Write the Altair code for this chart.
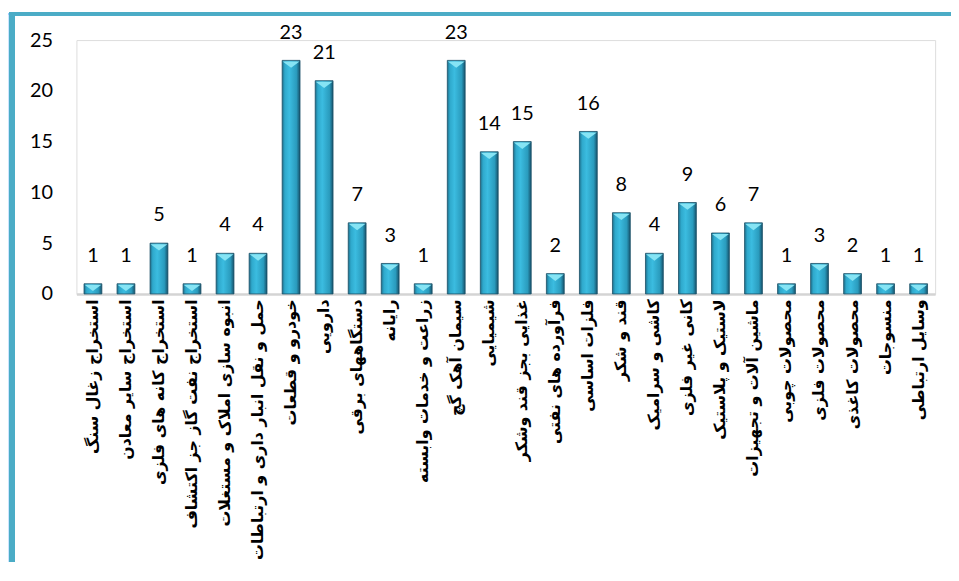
import altair as alt
import pandas as pd

categories = [
    "استخراج زغال سنگ",
    "استخراج سایر معادن",
    "استخراج کانه های فلزی",
    "استخراج نفت گاز جز اکتشاف",
    "انبوه سازی املاک و مستغلات",
    "حمل و نقل انبار داری و ارتباطات",
    "خودرو و قطعات",
    "دارویی",
    "دستگاههای برقی",
    "رایانه",
    "زراعت و خدمات وابسته",
    "سیمان آهک گچ",
    "شیمیایی",
    "غذایی بجز قند وشکر",
    "فرآورده های نفتی",
    "فلزات اساسی",
    "قند و شکر",
    "کاشی و سرامیک",
    "کانی غیر فلزی",
    "لاستیک و پلاستیک",
    "ماشین آلات و تجهیزات",
    "محصولات چوبی",
    "محصولات فلزی",
    "محصولات کاغذی",
    "منسوجات",
    "وسایل ارتباطی",
]
values = [1, 1, 5, 1, 4, 4, 23, 21, 7, 3, 1, 23, 14, 15, 2, 16, 8, 4, 9, 6, 7, 1, 3, 2, 1, 1]
y_ticks = [0, 5, 10, 15, 20, 25]

df = pd.DataFrame({"cat": categories, "val": values})

W, H = 866, 256

x_enc = alt.X(
    "cat:N",
    sort=None,
    scale=alt.Scale(paddingInner=0.46, paddingOuter=0.23),
    axis=alt.Axis(
        title=None,
        labelAngle=270,
        labelFont="DejaVu Sans",
        labelFontSize=16,
        labelFontWeight="bold",
        labelColor="#000000",
        labelLimit=400,
        labelPadding=5,
        ticks=False,
        domainColor="#d4d4d4",
        domainWidth=2.5,
        grid=False,
    ),
)
y_enc = alt.Y(
    "val:Q",
    scale=alt.Scale(domain=[0, 25], nice=False),
    axis=alt.Axis(
        title=None,
        values=y_ticks,
        labelFont="Lato",
        labelFontSize=20,
        labelColor="#000000",
        labelPadding=24,
        ticks=False,
        domain=False,
        grid=False,
    ),
)

base = alt.Chart(df)

bars = base.mark_bar(
    color=alt.Gradient(
        gradient="linear",
        x1=0, x2=1, y1=0, y2=0,
        stops=[
            alt.GradientStop(offset=0, color="#1d6f8c"),
            alt.GradientStop(offset=0.15, color="#2fa9cc"),
            alt.GradientStop(offset=0.4, color="#3bbce0"),
            alt.GradientStop(offset=0.8, color="#2a9bbd"),
            alt.GradientStop(offset=1, color="#16526b"),
        ],
    ),
    stroke="#1a4f66",
    strokeWidth=0.8,
).encode(x=x_enc, y=y_enc)

caps = base.mark_point(
    shape="M -1 0 L 1 0 L 0 0.75 Z",
    filled=True,
    color="#86e4f4",
    opacity=1,
    size=290,
    yOffset=1,
).encode(x=alt.X("cat:N", sort=None), y=alt.Y("val:Q"))

labels = base.mark_text(
    baseline="bottom",
    dy=-18,
    font="Lato",
    fontSize=20,
    color="#000000",
).encode(x=alt.X("cat:N", sort=None), y=alt.Y("val:Q"), text="val:Q")

left_border = alt.Chart(df).mark_rule(color="#4bacc6", strokeWidth=6).encode(
    x=alt.value(-65), y=alt.value(-28), y2=alt.value(600)
)
top_border = alt.Chart(df).mark_rule(color="#4bacc6", strokeWidth=3).encode(
    x=alt.value(-68), x2=alt.value(900), y=alt.value(-26.5)
)

chart = alt.layer(left_border, top_border, bars, caps, labels).properties(
    width=W,
    height=H,
    padding={"left": 69, "top": 30, "right": 16, "bottom": 268},
    autosize=alt.AutoSizeParams(type="none"),
).configure_view(stroke=None).configure(background="#ffffff")

chart.save("out.html", embed_options={"renderer": "svg", "actions": False})
